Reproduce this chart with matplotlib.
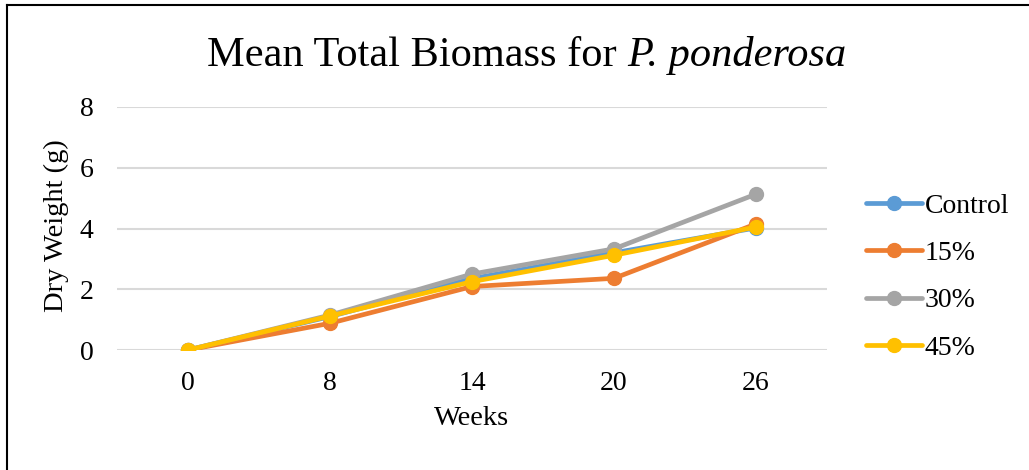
import matplotlib
matplotlib.use("Agg")
import matplotlib.pyplot as plt
from matplotlib.lines import Line2D

weeks = ["0", "8", "14", "20", "26"]
series_names = ["Control", "15%", "30%", "45%"]
control = [0.0, 1.10, 2.35, 3.20, 4.02]
p15 = [0.0, 0.88, 2.09, 2.36, 4.15]
p30 = [0.0, 1.15, 2.50, 3.33, 5.13]
p45 = [0.0, 1.12, 2.25, 3.12, 4.05]
yticks = [0, 2, 4, 6, 8]
colors = ["#5B9BD5", "#ED7D31", "#A5A5A5", "#FFC000"]

plt.rcParams['font.family'] = ['Liberation Serif', 'DejaVu Serif']

W, H = 1029, 470
fig = plt.figure(figsize=(W / 100, H / 100), dpi=100)
ax = fig.add_axes([117 / W, (H - 350) / H, (827 - 117) / W, (350 - 107) / H])

x = list(range(len(weeks)))
for name, vals, c in zip(series_names, [control, p15, p30, p45], colors):
    ax.plot(x, vals, color=c, lw=3.4, marker='o', ms=10, label=name,
            solid_capstyle='round', zorder=3)

ax.set_xlim(-0.5, len(weeks) - 0.5)
ax.set_ylim(0, 8)
ax.set_yticks(yticks)
ax.set_xticks(x)
ax.set_xticklabels(weeks)
ax.grid(axis='y', color='#d9d9d9', lw=1.5)
ax.set_axisbelow(True)
for s in ax.spines.values():
    s.set_visible(False)
ax.tick_params(axis='both', length=0, labelsize=20)
ax.tick_params(axis='y', pad=17)
ax.tick_params(axis='x', pad=15)
ax.set_xlabel("Weeks", fontsize=20.5, labelpad=7)
fig.text(56 / W, 1 - 226 / H, "Dry Weight (g)", rotation=90, ha='center',
         va='center', fontsize=20.5)

leg = ax.legend(loc='center left', bbox_to_anchor=(866 / W, 1 - 277 / H),
                bbox_transform=fig.transFigure, frameon=False, fontsize=20,
                handlelength=2.0, handletextpad=0.12, labelspacing=0.79,
                borderpad=0, borderaxespad=0)

# title: normal + italic part
fig.canvas.draw()
r = fig.canvas.get_renderer()
t1 = fig.text(0, 0, "Mean Total Biomass for ", fontsize=30.5)
t2 = fig.text(0, 0, "P. ponderosa", fontsize=30.5, style='italic')
w1 = t1.get_window_extent(r).width
w2 = t2.get_window_extent(r).width
cx = 527
x0 = cx - (w1 + w2) / 2
ybase = H - 66
t1.set_position((x0 / W, ybase / H))
t2.set_position(((x0 + w1) / W, ybase / H))
t1.set_va('baseline'); t2.set_va('baseline')

# frame
fig.add_artist(Line2D([7 / W, 7 / W], [0, 1 - 5 / H], color='black', lw=1.5,
                      transform=fig.transFigure))
fig.add_artist(Line2D([7 / W, 1], [1 - 5 / H, 1 - 5 / H], color='black', lw=1.5,
                      transform=fig.transFigure))

fig.savefig("out.png", dpi=100)
